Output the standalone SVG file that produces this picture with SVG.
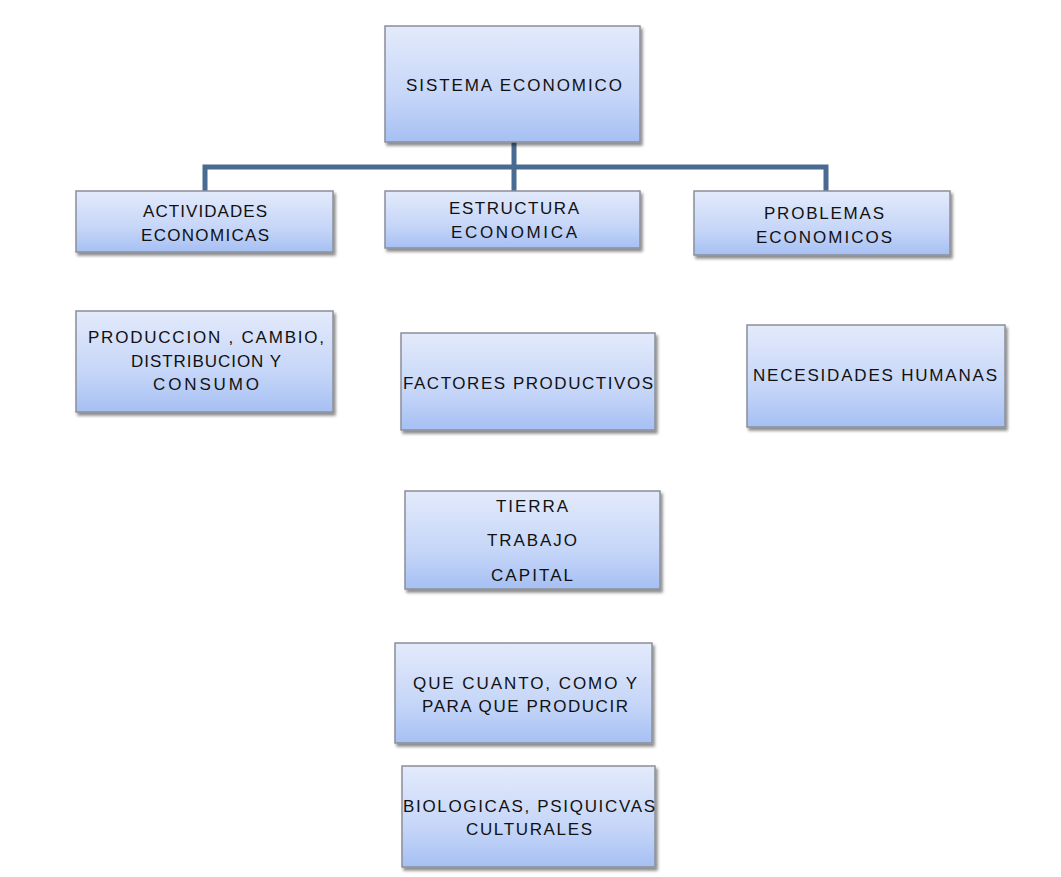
<svg xmlns="http://www.w3.org/2000/svg" width="1061" height="877" viewBox="0 0 1061 877">
<defs>
<linearGradient id="g" x1="0" y1="0" x2="0" y2="1">
<stop offset="0" stop-color="#e3eafb"/>
<stop offset="0.6" stop-color="#c6d6f8"/>
<stop offset="1" stop-color="#a6c0f3"/>
</linearGradient>
<filter id="sh" x="-5%" y="-10%" width="115%" height="130%">
<feDropShadow dx="2" dy="3" stdDeviation="1.5" flood-color="#000" flood-opacity="0.45"/>
</filter>
</defs>
<style>
.box{fill:url(#g);stroke:#8a8f99;stroke-width:1.5;filter:url(#sh)}
.t{font-family:"Liberation Sans","DejaVu Sans",sans-serif;font-size:17px;fill:#111;text-anchor:middle}
.c{fill:none;stroke:#4a6b91;stroke-width:5}
</style>
<rect width="1061" height="877" fill="#fff"/>
<g id="connectors">
<path class="c" d="M514 142V167M205 193V167H826V193M514 167V193"/>
</g>
<g id="sistema">
<rect class="box" x="385" y="26" width="255" height="116"/>
<text class="t" x="514" y="91" textLength="216" lengthAdjust="spacing">SISTEMA ECONOMICO</text>
</g>
<g id="actividades">
<rect class="box" x="76" y="191" width="257" height="61"/>
<text class="t" x="205" y="217" textLength="124" lengthAdjust="spacing">ACTIVIDADES</text>
<text class="t" x="205" y="241" textLength="128" lengthAdjust="spacing">ECONOMICAS</text>
</g>
<g id="estructura">
<rect class="box" x="385" y="191" width="255" height="57"/>
<text class="t" x="514" y="214" textLength="130" lengthAdjust="spacing">ESTRUCTURA</text>
<text class="t" x="514" y="238" textLength="126" lengthAdjust="spacing">ECONOMICA</text>
</g>
<g id="problemas">
<rect class="box" x="694" y="191" width="256" height="64"/>
<text class="t" x="824" y="219" textLength="120" lengthAdjust="spacing">PROBLEMAS</text>
<text class="t" x="824" y="243" textLength="136" lengthAdjust="spacing">ECONOMICOS</text>
</g>
<g id="produccion">
<rect class="box" x="76" y="311" width="257" height="101"/>
<text class="t" x="206" y="343" textLength="236" lengthAdjust="spacing">PRODUCCION , CAMBIO,</text>
<text class="t" x="206" y="367" textLength="150" lengthAdjust="spacing">DISTRIBUCION Y</text>
<text class="t" x="206" y="390" textLength="106" lengthAdjust="spacing">CONSUMO</text>
</g>
<g id="factores">
<rect class="box" x="401" y="333" width="254" height="97"/>
<text class="t" x="528" y="389" textLength="250" lengthAdjust="spacing">FACTORES PRODUCTIVOS</text>
</g>
<g id="necesidades">
<rect class="box" x="747" y="325" width="258" height="102"/>
<text class="t" x="875" y="381" textLength="244" lengthAdjust="spacing">NECESIDADES HUMANAS</text>
</g>
<g id="tierra">
<rect class="box" x="405" y="491" width="255" height="98"/>
<text class="t" x="532" y="512" textLength="72" lengthAdjust="spacing">TIERRA</text>
<text class="t" x="532" y="546" textLength="90" lengthAdjust="spacing">TRABAJO</text>
<text class="t" x="532" y="581" textLength="82" lengthAdjust="spacing">CAPITAL</text>
</g>
<g id="que">
<rect class="box" x="395" y="643" width="257" height="100"/>
<text class="t" x="525" y="689" textLength="224" lengthAdjust="spacing">QUE CUANTO, COMO Y</text>
<text class="t" x="525" y="712" textLength="206" lengthAdjust="spacing">PARA QUE PRODUCIR</text>
</g>
<g id="biologicas">
<rect class="box" x="402" y="766" width="253" height="101"/>
<text class="t" x="529" y="812" textLength="252" lengthAdjust="spacing">BIOLOGICAS, PSIQUICVAS</text>
<text class="t" x="529" y="835" textLength="126" lengthAdjust="spacing">CULTURALES</text>
</g>
</svg>
